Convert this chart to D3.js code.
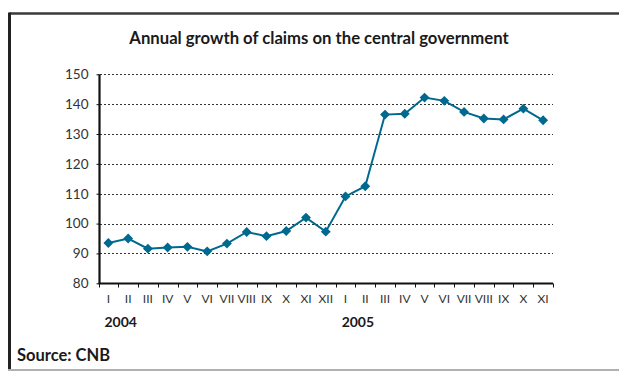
<!DOCTYPE html>
<html>
<head>
<meta charset="utf-8">
<script src="https://cdn.jsdelivr.net/npm/d3@7/dist/d3.min.js"></script>
<style>
  html, body { margin: 0; padding: 0; background: #fff; }
  svg { display: block; }
  text { font-family: Lato, "Open Sans", sans-serif; }
</style>
</head>
<body>
<svg id="chart" width="619" height="372"></svg>
<script>
// Month labels (Roman numerals), Jan 2004 – Nov 2005
const months = ["I","II","III","IV","V","VI","VII","VIII","IX","X","XI","XII",
                "I","II","III","IV","V","VI","VII","VIII","IX","X","XI"];
// Year labels and the month index they sit under
const years = ["2004", "2005"];
const yearIndex = [0, 12];
// Annual growth index of claims on the central government
const growth = [93.5, 95.0, 91.6, 92.0, 92.2, 90.7, 93.3, 97.2, 95.8, 97.5, 102.0, 97.3,
                109.1, 112.5, 136.5, 136.8, 142.2, 141.1, 137.4, 135.2, 134.9, 138.5, 134.6];
const yTicks = [80, 90, 100, 110, 120, 130, 140, 150];

const svg = d3.select("#chart");
const lineColor = "#00698f";

// Frame
svg.append("line").attr("x1", 9.5).attr("x2", 619).attr("y1", 13.5).attr("y2", 13.5)
  .attr("stroke", "#3a3a3a").attr("stroke-width", 2.5);
svg.append("line").attr("x1", 9.5).attr("x2", 9.5).attr("y1", 12.5).attr("y2", 371)
  .attr("stroke", "#222").attr("stroke-width", 3);
svg.append("line").attr("x1", 8).attr("x2", 619).attr("y1", 370).attr("y2", 370)
  .attr("stroke", "#b0b0b0").attr("stroke-width", 2);

// Title
svg.append("text").attr("x", 319).attr("y", 44).attr("text-anchor", "middle")
  .attr("font-weight", "bold").attr("font-size", 16.7).attr("fill", "#1a1a1a")
  .text("Annual growth of claims on the central government");

const x = d3.scaleBand().domain(d3.range(months.length)).range([98.5, 553]);
const y = d3.scaleLinear().domain([80, 150]).range([283.3, 74.3]);

// Horizontal dotted gridlines
svg.append("g").selectAll("line").data(yTicks.filter(d => d > 80)).join("line")
  .attr("x1", 100).attr("x2", 553)
  .attr("y1", d => Math.round(y(d)) + 0.5).attr("y2", d => Math.round(y(d)) + 0.5)
  .attr("stroke", "#333").attr("stroke-width", 1).attr("stroke-dasharray", "2,2");

// Y axis
const yAxis = svg.append("g").attr("transform", "translate(99.5,0)")
  .call(d3.axisLeft(y).tickValues(yTicks).tickSize(3).tickPadding(8).tickFormat(d3.format("d")));
yAxis.select(".domain").attr("stroke", "#111").attr("stroke-width", 2.2).attr("d", `M0,${y(150)}V${y(80)}`);
yAxis.selectAll(".tick line").attr("stroke", "#111");
yAxis.selectAll(".tick text").attr("font-size", 13.5).attr("fill", "#333")
  .attr("font-family", "Lato, sans-serif");

// X axis line with ticks at band boundaries
const xAxisY = Math.round(y(80)) + 0.5;
svg.append("line").attr("x1", 98.5).attr("x2", 553).attr("y1", xAxisY).attr("y2", xAxisY)
  .attr("stroke", "#111").attr("stroke-width", 2.2);
svg.append("g").selectAll("line").data(d3.range(months.length + 1)).join("line")
  .attr("x1", i => Math.round(i < months.length ? x(i) : x.range()[1]) + 0.5)
  .attr("x2", i => Math.round(i < months.length ? x(i) : x.range()[1]) + 0.5)
  .attr("y1", xAxisY).attr("y2", xAxisY + 4)
  .attr("stroke", "#111").attr("stroke-width", 1);

// Month labels
svg.append("g").selectAll("text").data(months).join("text")
  .attr("x", (d, i) => x(i) + x.bandwidth() / 2).attr("y", 303)
  .attr("text-anchor", "middle").attr("font-size", 12).attr("fill", "#333")
  .text(d => d);

// Year labels
svg.append("g").selectAll("text").data(years).join("text")
  .attr("x", (d, i) => x(yearIndex[i]) + 6).attr("y", 327)
  .attr("font-size", 14).attr("font-weight", "bold").attr("fill", "#1a1a1a")
  .text(d => d);

// Series line
const line = d3.line().x((d, i) => x(i) + x.bandwidth() / 2).y(d => y(d));
svg.append("path").datum(growth).attr("d", line)
  .attr("fill", "none").attr("stroke", lineColor).attr("stroke-width", 2);

// Diamond markers
svg.append("g").selectAll("path").data(growth).join("path")
  .attr("transform", (d, i) => `translate(${x(i) + x.bandwidth() / 2},${y(d)})`)
  .attr("d", d3.symbol(d3.symbolDiamond2, 62)())
  .attr("fill", lineColor);

// Source
svg.append("text").attr("x", 17).attr("y", 361)
  .attr("font-size", 16.5).attr("font-weight", "bold").attr("fill", "#1a1a1a")
  .text("Source: CNB");
</script>
</body>
</html>
